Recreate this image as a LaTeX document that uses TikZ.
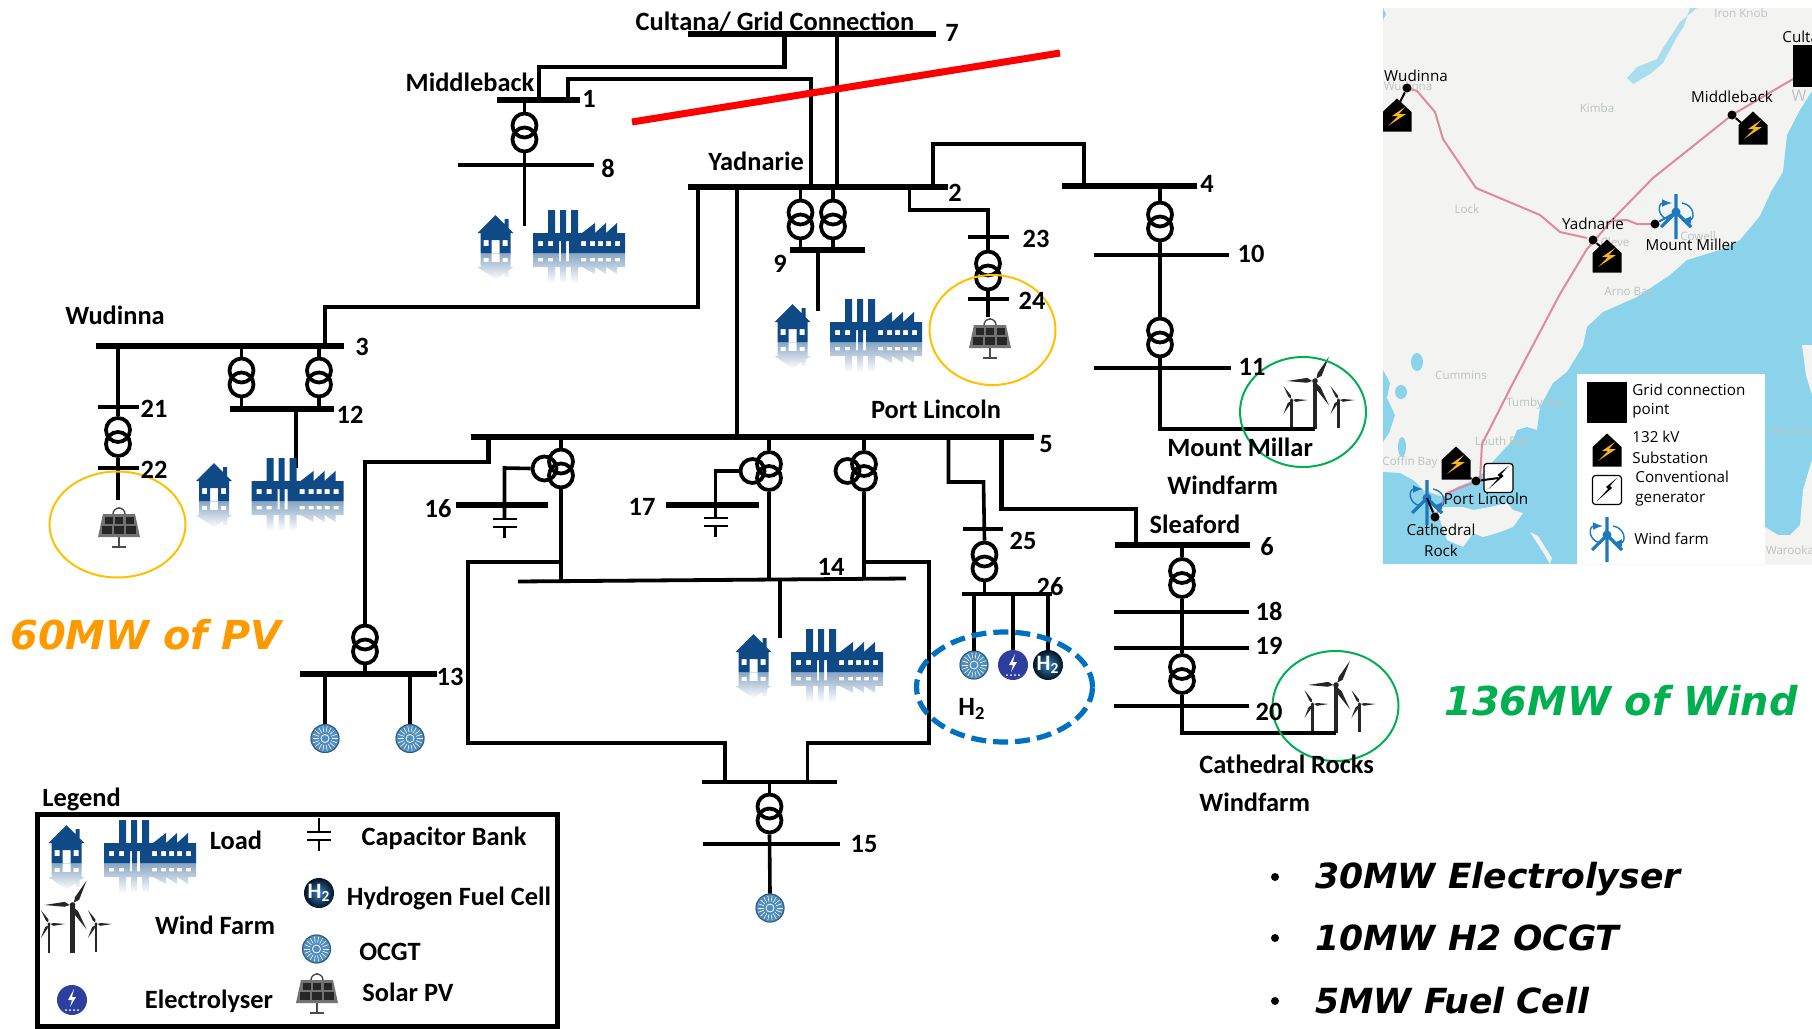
\documentclass[tikz,border=0pt]{standalone}
\usepackage{fontspec}
\setmainfont{Carlito}
\newfontfamily\mapfont{Open Sans}
\newfontfamily\slidefont{DejaVu Sans}
\usetikzlibrary{arrows,positioning,shapes.geometric,fadings}
\definecolor{loadblue}{HTML}{0F4A86}
\definecolor{sea}{HTML}{8BD3EB}
\definecolor{land}{HTML}{F3F4F2}
\definecolor{pinkline}{HTML}{DE8A9C}
\definecolor{maptext}{HTML}{BCC2C2}
\definecolor{windblue}{HTML}{1E78BE}
\definecolor{boltyellow}{HTML}{F7B51C}
\definecolor{ocgtblue}{HTML}{4F8FBF}
\definecolor{elecblue}{HTML}{2C3F9E}
\definecolor{solaryellow}{HTML}{FFC000}
\definecolor{pvorange}{HTML}{FF9900}
\definecolor{windgreen}{HTML}{00B050}
\definecolor{hydrogenblue}{HTML}{0070C0}

\newcommand{\HousePath}{(0,-38) -- (9,-29) -- (9,-34) -- (13,-34) -- (13,-25) -- (18,-20) -- (15,-20) -- (15,0) -- (-15,0) -- (-15,-20) -- (-18,-20) -- cycle (-4,-13) rectangle (4,0) (-12,-13) rectangle (-7,-7) (7,-13) rectangle (12,-7)}
\newcommand{\FactoryPath}{(0,-20) -- (15,-20) -- (15,-43) -- (22,-43) -- (22,-20) -- (27,-20) -- (27,-43) -- (33,-43) -- (33,-20) -- (38,-20) -- (38,-43) -- (45,-43) -- (45,-20) -- (49,-20) -- (62,-30) -- (62,-20) -- (73,-30) -- (73,-20) -- (84,-30) -- (84,-20) -- (92,-20) -- (92,0) -- (36,0) -- (36,-12) -- (33,-12) -- (33,0) -- (28,0) -- (28,-12) -- (26,-12) -- (26,0) -- (0,0) -- cycle (5,-12) rectangle (10,-7) (15,-12) rectangle (20,-7) (48,-12) rectangle (53,-7) (57,-12) rectangle (62,-7) (65,-12) rectangle (70,-7) (73,-12) rectangle (78,-7) (82,-12) rectangle (87,-7)}

\tikzset{
	pics/load/.style={code={
		\fill[loadblue,even odd rule] \HousePath;
		\fill[loadblue,even odd rule,shift={(37.5,0)}] \FactoryPath;
		\fill[loadblue,even odd rule,yscale=-0.7,opacity=0.5,path fading=south] \HousePath;
		\fill[loadblue,even odd rule,shift={(37.5,0)},yscale=-0.7,opacity=0.5,path fading=south] \FactoryPath;
	}},
	pics/turbine/.style n args={3}{code={
		\draw[black!85,line width={#1*0.08pt}] (0,0) -- (0,#3);
		\foreach \a in {#2,#2+120,#2+240}
			\fill[black!85] ({\a}:#1) -- ({\a+22}:{.3*#1}) -- ({\a}:{.1*#1}) -- ({\a-12}:{.3*#1}) -- cycle;
		\fill[black!85] (0,0) circle[radius={#1*0.1}];
	}},
	pics/windfarm/.style={code={
		\pic at (0,0) {turbine={28}{-60}{48}};
		\pic at (-23.5,19) {turbine={16}{0}{29}};
		\pic at (23.5,19) {turbine={16}{0}{28}};
		\coordinate (-foot) at (0,48);
	}},
	pics/ocgt/.style={code={
		\fill[ocgtblue] (0,0) circle[radius=14.5];
		\draw[black!10!ocgtblue!70!black,line width=.5pt] (0,0) circle[radius=14];
		\foreach \a in {0,20,...,340}
			\draw[white,line width=.3pt] (\a:6.5) -- (\a:12.5);
		\draw[white,line width=.4pt] (0,0) circle[radius=4];
		\coordinate (-top) at (0,-14.5);
	}},
	pics/electrolyser/.style={code={
		\fill[elecblue] (0,0) circle[radius=15];
		\fill[white] (2,-11) -- (-4,0) -- (0,0) -- (-2,7) -- (4,-3) -- (0,-3) -- cycle;
		\foreach \a in {-6,-2,2,6}
			\fill[white] (\a,10) circle[radius=1];
		\coordinate (-top) at (0,-15);
	}},
	pics/fuelcell/.style={code={
		\shade[inner color=windblue!90,outer color=black!75!loadblue] (0,0) circle[radius=15];
		\node[text=white,font=\bfseries\fontsize{11}{11}\selectfont,inner sep=0pt] (-h) at (0,0) {H\textsubscript{2}};
		\coordinate (-top) at (0,-15);
	}},
	pics/solarpv/.style={code={
		\draw[black!70,line width=.7pt] (-6,-12) arc[start angle=180,end angle=360,radius=6];
		\fill[black!70] (0,-18) circle[radius=1.2];
		\draw[black!70,line width=1.4pt] (0,10) -- (0,20) (-7,21) -- (7,21);
		\fill[black!55] (-16,-12) -- (16,-12) -- (21,11) -- (-21,11) -- cycle;
		\foreach \i in {-1,0,1} {
			\fill[black!85] ({\i*10.5-4},-9) rectangle ({\i*10.5+4},-2);
			\fill[black!85] ({\i*12-5},0) rectangle ({\i*12+5},8);
		}
	}},
	pics/capbank/.style={code={
		\draw[line width=1.3pt,black] (0,-14) -- (0,0) (-12,0) -- (12,0) (-12,8) -- (12,8) (0,8) -- (0,19);
	}},
	pics/substation/.style={code={
		\fill[black] (0,-16.5) -- (14.5,-3) -- (14.5,16.5) -- (-14.5,16.5) -- (-14.5,-3) -- cycle;
		\fill[boltyellow] (8,-8) -- (-5,1) -- (1,1) -- (-9,11) -- (9,-1) -- (2,-1) -- cycle;
		\coordinate (-c) at (0,0);
	}},
	pics/generator/.style={code={
		\draw[black,fill=white,rounded corners=1.5pt,line width=.6pt] (-14.5,-14.5) rectangle (14.5,14.5);
		\fill[black] (10,-12) -- (-1,-3) -- (1,-1) -- (-10,11) -- (5,-2) -- (3,-4) -- cycle;
		\coordinate (-c) at (0,0);
	}},
	pics/windicon/.style={code={
		\draw[windblue,line width=1.6pt] (0,-18) -- (0,27) (-15,15) -- (0,0) -- (15,15);
		\fill[windblue] (0,0) circle[radius=4.5];
		\draw[windblue,line width=.7pt,-latex] (-6,8) .. controls (-19,6) and (-19,-9) .. (-4,-9);
		\draw[windblue,line width=.7pt,-latex] (6,-9) .. controls (19,-7) and (19,8) .. (5,8);
		\coordinate (-c) at (0,0);
	}},
}

\newcommand{\Bus}[5][busbar]{\node[#1,minimum width={(#4-#3)*0.5pt}] (#2) at ({(#3+#4)/2},#5) {};}
\newcommand{\Trafo}[3]{%
	\coordinate (#1) at (#2,#3);
	\node[coil] (#1U) at (#2,#3-7) {};
	\node[coil] (#1D) at (#2,#3+7) {};}
\newcommand{\TrafoT}[3]{%
	\Trafo{#1}{#2}{#3}
	\node[coil] (#1L) at (#2-16.5,#3) {};}

\begin{document}
\begin{tikzpicture}[x=0.5pt,y=-0.5pt]
	\tikzstyle{busbar}=[fill=black,inner sep=0pt,outer sep=0pt,minimum height=2.7pt]
	\tikzstyle{thinbar}=[busbar,minimum height=1.9pt]
	\tikzstyle{coil}=[circle,draw=black,line width=1.9pt,inner sep=0pt,minimum size=12pt]
	\tikzstyle{feeder}=[line width=2.2pt,black,line join=miter]
	\tikzstyle{stem}=[line width=1.8pt,black]
	\tikzstyle{tag}=[font=\bfseries\fontsize{13.2}{15}\selectfont,inner sep=0pt,text depth=0pt]
	\tikzstyle{solarring}=[ellipse,draw=solaryellow,line width=1pt,inner sep=0pt]
	\tikzstyle{windring}=[ellipse,draw=windgreen,line width=1pt,inner sep=0pt]
	\tikzstyle{sizing}=[font=\slidefont\bfseries\itshape\fontsize{19.9}{23}\selectfont,inner sep=0pt]
	\tikzstyle{bullettext}=[font=\slidefont\bfseries\itshape\fontsize{17.3}{21}\selectfont,inner sep=0pt,anchor=west]
	\tikzstyle{pointdot}=[circle,fill=black,inner sep=0pt,minimum size=4pt]
	\tikzstyle{maplabel}=[font=\mapfont\fontsize{7.6}{10}\selectfont,inner sep=0pt]
	\tikzstyle{maptown}=[font=\mapfont\fontsize{5.8}{8}\selectfont,inner sep=0pt,text=maptext]
	\tikzstyle{mapdot}=[circle,fill=black,inner sep=0pt,minimum size=4.5pt]

	\useasboundingbox (0,0) rectangle (1812,1029);

	% map
	\begin{scope}
		\clip (1383,8) rectangle (1812,564);
		\fill[land] (1383,8) rectangle (1812,564);
		\fill[sea] (1812,91) -- (1800,110) -- (1787,135) -- (1783,172) -- (1772,190) -- (1760,216) -- (1740,240) -- (1723,249) -- (1687,260) -- (1670,275) -- (1637,297) -- (1603,312) -- (1587,327) -- (1583,346) -- (1567,372) -- (1553,383) -- (1540,407) -- (1537,430) -- (1527,427) -- (1517,430) -- (1513,440) -- (1497,457) -- (1483,473) -- (1470,482) -- (1457,487) -- (1443,497) -- (1423,490) -- (1413,480) -- (1400,473) -- (1383,472) -- (1383,564) -- (1812,564) -- cycle;
		\fill[land] (1423,490) -- (1437,507) -- (1463,507) -- (1473,510) -- (1490,507) -- (1507,503) -- (1513,510) -- (1523,513) -- (1513,527) -- (1497,533) -- (1483,537) -- (1473,533) -- (1463,547) -- (1447,540) -- (1440,520) -- cycle;
		\fill[land] (1530,532) -- (1538,536) -- (1552,558) -- (1550,564) -- (1543,552) -- cycle;
		\fill[land] (1802,345) -- (1812,345) -- (1812,395) -- (1806,375) -- cycle;
		\fill[land] (1765,527) -- (1778,535) -- (1790,535) -- (1800,525) -- (1803,490) -- (1812,460) -- (1812,564) -- (1765,564) -- cycle;
		\fill[sea!70!land] (1697,8) -- (1680,22) -- (1663,48) -- (1657,59) -- (1637,67) -- (1627,78) -- (1633,84) -- (1650,74) -- (1663,63) -- (1677,37) -- (1684,26) -- (1690,8) -- cycle;
		\fill[sea] (1383,370) -- (1390,383) -- (1387,398) -- (1395,415) -- (1389,433) -- (1383,442) -- cycle;
		\fill[sea] (1417,362) ellipse[x radius=6,y radius=9];
		\fill[sea] (1401,392) ellipse[x radius=6,y radius=7];
		\fill[sea] (1402,447) ellipse[x radius=4,y radius=10];
		\fill[sea] (1383,8) -- (1386,14) -- (1383,20) -- cycle;
		\node[maptown] (mapIron) at (1741,13) {Iron Knob};
		\node[maptown] (mapKimba) at (1597,108) {Kimba};
		\node[maptown] (mapLock) at (1467,209) {Lock};
		\node[maptown] (mapCummins) at (1461,375) {Cummins};
		\node[maptown] (mapTumby) at (1536,403) {Tumby Bay};
		\node[maptown] (mapLouth) at (1502,442) {Louth Bay};
		\node[maptown] (mapCoffin) at (1410,462) {Coffin Bay};
		\node[maptown] (mapArno) at (1629,293) {Arno Bay};
		\node[maptown] (mapCowell) at (1698,236) {Cowell};
		\node[maptown] (mapCleve) at (1615,242) {Cleve};
		\node[maptown] (mapPort) at (1793,431) {Port Vic};
		\node[maptown] (mapWarooka) at (1790,550) {Warooka};
		\node[maptown] (mapWudinna) at (1408,86) {Wudinna};
		\node[maptown,font=\mapfont\fontsize{8}{10}\selectfont] (mapWh) at (1799,96) {W};
		\draw[pinkline,line width=1pt] (1793,79) -- (1732,115) -- (1653,178) -- (1613,219) -- (1587,249) -- (1560,294) -- (1513,383) -- (1482,444) -- (1480,480) -- (1447,493) -- (1435,517);
		\draw[pinkline,line width=1pt] (1407,88) -- (1417,91) -- (1435,112) -- (1443,139) -- (1476,188) -- (1540,215) -- (1560,232) -- (1587,238);
		\draw[pinkline,line width=1pt] (1610,221) -- (1627,220) -- (1637,224) -- (1655,224);
		\fill[black] (1793,45) rectangle (1812,87);
		\node[maplabel,anchor=west] (mapCult) at (1782,37) {Cultana};

		\pic (subW) at (1397,115) {substation};
		\pic (subM) at (1753,128) {substation};
		\pic (subY) at (1607,256) {substation};
		\pic (subP) at (1456,463) {substation};
		\node[mapdot] (dotW) at (1407,88) {};
		\node[mapdot] (dotM) at (1732,115) {};
		\node[mapdot] (dotY) at (1593,240) {};
		\node[mapdot] (dotP) at (1476,481) {};
		\draw[line width=1pt] (dotW) -- (1397,108);
		\draw[line width=1pt] (dotM) -- (1745,126);
		\draw[line width=1pt] (dotY) -- (1602,248);
		\pic (genP) at (1498.5,478) {generator};
		\draw[line width=1pt] (dotP) -- (genP-c);
		\draw[line width=1pt] (dotP) -- (1470,478);
		\pic (windM) at (1676,212) {windicon};
		\pic (windC) at (1427,498) {windicon};
		\node[mapdot] (dotMM) at (1655,224) {};
		\node[mapdot] (dotC) at (1435,517) {};
		\draw[windblue,line width=1pt] (dotMM) -- (windM-c);
		\draw[line width=1pt] (dotC) -- (windC-c);
		\node[maplabel] (mapWud) at (1416,76) {Wudinna};
		\node[maplabel] (mapMid) at (1732,97) {Middleback};
		\node[maplabel] (mapYad) at (1593,224) {Yadnarie};
		\node[maplabel] (mapMou) at (1691,245) {Mount Miller};
		\node[maplabel] (mapLin) at (1486,499) {Port Lincoln};
		\node[maplabel] (mapCat) at (1441,530) {Cathedral};
		\node[maplabel] (mapRoc) at (1441,551) {Rock};

		\fill[white] (1577,374) rectangle (1765,564);
		\fill[black] (1587,382) rectangle (1627,423);
		\pic (keySub) at (1607,450) {substation};
		\pic (keyGen) at (1607,490) {generator};
		\pic (keyWind) at (1607,535) {windicon};
		\node[maplabel,anchor=west] (keyA) at (1632,390) {Grid connection};
		\node[maplabel,anchor=west] (keyB) at (1632,411) {point};
		\node[maplabel,anchor=west] (keyC) at (1632,437) {132 kV};
		\node[maplabel,anchor=west] (keyD) at (1632,458) {Substation};
		\node[maplabel,anchor=west] (keyE) at (1635,477) {Conventional};
		\node[maplabel,anchor=west] (keyF) at (1635,499) {generator};
		\node[maplabel,anchor=west] (keyG) at (1634,539) {Wind farm};
	\end{scope}

	% buses
	\Bus{b1}{497}{580}{100}
	\Bus{b7}{688}{936}{34}
	\Bus{b2}{688}{948}{187}
	\Bus{b3}{96}{344}{346}
	\Bus{b4}{1062}{1197}{186}
	\Bus{b5}{471}{1034}{437}
	\Bus{b6}{1115}{1250}{545}
	\Bus[thinbar]{b8}{458}{594}{165}
	\Bus{b9}{790}{865}{250}
	\Bus[thinbar]{b10}{1094}{1229}{255}
	\Bus[thinbar]{b11}{1094}{1231}{368}
	\Bus{b12}{230}{334}{409}
	\Bus{b13}{300}{437}{674}
	\Bus[thinbar,rotate=0.44]{b14}{518}{906}{580}
	\Bus[thinbar]{b15a}{702}{837}{782}
	\Bus[thinbar]{b15}{703}{840}{844}
	\Bus{b16}{456}{548}{505}
	\Bus{b17}{666}{759}{505}
	\Bus[thinbar]{b18}{1114}{1249}{612}
	\Bus[thinbar]{b19}{1114}{1249}{648}
	\Bus[thinbar]{b20}{1114}{1249}{706}
	\Bus[thinbar]{b21}{98}{139}{407}
	\Bus[thinbar]{b22}{98}{139}{468}
	\Bus[thinbar]{b23}{968}{1009}{237}
	\Bus[thinbar]{b24}{968}{1009}{299}
	\Bus[thinbar]{b25}{963}{1003}{529}
	\Bus[thinbar]{b26}{962}{1052}{594}

	% transformers
	\Trafo{t1}{524.5}{132.5}
	\Trafo{t3a}{241.5}{377.5}
	\Trafo{t3b}{319}{377.5}
	\Trafo{t21}{118}{437}
	\Trafo{t9a}{800.5}{219.5}
	\Trafo{t9b}{833}{219.5}
	\Trafo{t23}{988}{270.5}
	\Trafo{t4}{1160}{221.5}
	\Trafo{t10}{1160}{337.5}
	\Trafo{t6}{1182}{578}
	\Trafo{t19}{1182}{674}
	\Trafo{t13}{365}{644.5}
	\Trafo{t15}{769.5}{813.5}
	\Trafo{t25}{984.5}{561.5}
	\TrafoT{tA}{561}{468.5}
	\TrafoT{tB}{769}{471}
	\TrafoT{tC}{864}{471}

	% lines
	\coordinate (k1a) at (539,67);
	\coordinate (k1b) at (784.5,67);
	\draw[feeder] (k1a |- b1) -- (k1a) -- (k1b) -- (k1b |- b7);
	\coordinate (k2a) at (568,79);
	\coordinate (k2b) at (811,79);
	\draw[feeder] (k2a |- b1) -- (k2a) -- (k2b) -- (k2b |- b2);
	\coordinate (k7) at (837,110);
	\draw[feeder] (k7 |- b7) -- (k7 |- b2);
	\coordinate (k3a) at (325,307);
	\coordinate (k3b) at (698,307);
	\draw[feeder] (k3a |- b3) -- (k3a) -- (k3b) -- (k3b |- b2);
	\coordinate (k5) at (737,300);
	\draw[feeder] (k5 |- b2) -- (k5 |- b5);
	\coordinate (k4a) at (933,144);
	\coordinate (k4b) at (1084,144);
	\draw[feeder] (k4a |- b2) -- (k4a) -- (k4b) -- (k4b |- b4);
	\coordinate (k23a) at (909.5,210);
	\coordinate (k23b) at (988,210);
	\draw[stem] (k23a |- b2) -- (k23a) -- (k23b) -- (t23U.north);

	\draw[stem] (t1U.north) -- (t1U |- b1);
	\coordinate (endb8) at (524.5,226);
	\draw[stem] (t1D.south) -- (endb8);
	\draw[stem] (t3aU.north) -- (t3aU |- b3);
	\draw[stem] (t3aD.south) -- (t3aD |- b12);
	\draw[stem] (t3bU.north) -- (t3bU |- b3);
	\draw[stem] (t3bD.south) -- (t3bD |- b12);
	\coordinate (endb12) at (296,468);
	\draw[feeder] (endb12 |- b12) -- (endb12);
	\draw[stem] (t21U.north) -- (t21U |- b3);
	\coordinate (endb22) at (118,500);
	\draw[stem] (t21D.south) -- (endb22);
	\draw[stem] (t9aU.north) -- (t9aU |- b2);
	\draw[stem] (t9aD.south) -- (t9aD |- b9);
	\draw[stem] (t9bU.north) -- (t9bU |- b2);
	\draw[stem] (t9bD.south) -- (t9bD |- b9);
	\coordinate (endb9) at (818,311);
	\draw[stem] (endb9 |- b9) -- (endb9);
	\coordinate (endb24) at (988,317);
	\draw[stem] (t23D.south) -- (endb24);
	\draw[stem] (t4U.north) -- (t4U |- b4);
	\draw[stem] (t4D.south) -- (t10U.north);
	\pic (wf11) at (1315,381) {windfarm};
	\draw[stem] (t10D.south) -- (t10D |- wf11-foot) -- (wf11-foot);
	\draw[stem] (t6U.north) -- (t6U |- b6);
	\draw[stem] (t6D.south) -- (t19U.north);
	\pic (wf20) at (1336,685) {windfarm};
	\draw[stem] (t19D.south) -- (t19D |- wf20-foot) -- (wf20-foot);

	\coordinate (k13a) at (488.5,462);
	\coordinate (k13b) at (365,462);
	\draw[feeder] (k13a |- b5) -- (k13a) -- (k13b) -- (t13U.north);
	\draw[stem] (t13D.south) -- (t13D |- b13);
	\pic (g13a) at (325,738.5) {ocgt};
	\pic (g13b) at (410,738.5) {ocgt};
	\draw[stem] (g13a-top |- b13) -- (g13a-top);
	\draw[stem] (g13b-top |- b13) -- (g13b-top);

	\draw[stem] (tAU.north) -- (tAU |- b5);
	\draw[stem] (tBU.north) -- (tBU |- b5);
	\draw[stem] (tCU.north) -- (tCU |- b5);
	\draw[stem] (tAD.south) -- (tAD |- b14);
	\draw[stem] (tBD.south) -- (tBD |- b14);
	\draw[stem] (tCD.south) -- (tCD |- b14);
	\pic (cap16) at (504.5,519) {capbank};
	\pic (cap17) at (715.5,518) {capbank};
	\coordinate (k16) at (504.5,468);
	\coordinate (k17) at (715.5,471);
	\coordinate (k16b) at (504.5,519);
	\coordinate (k17b) at (715.5,518);
	\draw[stem] (tAL.west) -- (k16) -- (k16b);
	\draw[stem] (tBL.west) -- (k17) -- (k17b);

	\coordinate (k14a) at (468,562);
	\coordinate (k14b) at (468,743);
	\coordinate (k14c) at (725,743);
	\draw[stem] (tAD |- k14a) -- (k14a) -- (k14b) -- (k14c) -- (k14c |- b15a);
	\coordinate (k14d) at (929,562);
	\coordinate (k14e) at (929,743);
	\coordinate (k14f) at (807.5,743);
	\draw[stem] (tCD |- k14d) -- (k14d) -- (k14e) -- (k14f) -- (k14f |- b15a);
	\draw[stem] (t15U.north) -- (t15U |- b15a);
	\pic (g15) at (770,908) {ocgt};
	\draw[stem] (t15D.south) -- (g15-top);
	\coordinate (endb14) at (780,638);
	\draw[stem] (endb14 |- b14) -- (endb14);

	\coordinate (k25a) at (948.5,482);
	\coordinate (k25b) at (983.5,482);
	\draw[stem] (k25a |- b5) -- (k25a) -- (k25b) -- (t25U.north);
	\draw[stem] (t25D.south) -- (t25D |- b26);
	\coordinate (k6a) at (1001.5,509);
	\coordinate (k6b) at (1136,509);
	\draw[feeder] (k6a |- b5) -- (k6a) -- (k6b) -- (k6b |- b6);
	\pic (g26a) at (974,665) {ocgt};
	\pic (g26b) at (1013,665) {electrolyser};
	\pic (g26c) at (1048,665) {fuelcell};
	\draw[stem] (g26a-top |- b26) -- (g26a-top);
	\draw[stem] (g26b-top |- b26) -- (g26b-top);
	\draw[stem] (g26c-top |- b26) -- (g26c-top);

	% loads and solar
	\pic at (495.5,253) {load};
	\pic at (214,501) {load};
	\pic at (792.5,342) {load};
	\pic at (753.5,672) {load};
	\pic at (119,526) {solarpv};
	\pic at (990,337) {solarpv};

	% rings
	\node[solarring,minimum width=68pt,minimum height=53pt] (ring22) at (117.5,524.5) {};
	\node[solarring,minimum width=63pt,minimum height=55pt] (ring24) at (992.5,330) {};
	\node[windring,minimum width=63pt,minimum height=55pt] (ring11) at (1303,412) {};
	\node[windring,minimum width=63pt,minimum height=55pt] (ring20) at (1335.5,706) {};
	\node[ellipse,draw=hydrogenblue,line width=2.6pt,dash pattern=on 7.5pt off 3.5pt,inner sep=0pt,minimum width=88pt,minimum height=55pt] (ringH) at (1004.5,687) {};
	\coordinate (cutL) at (632,122);
	\coordinate (cutR) at (1060,53);
	\draw[red,line width=3.5pt] (cutL) -- (cutR);

	% labels
	\node[tag] (n1) at (589,99) {1};
	\node[tag] (n2) at (955,193) {2};
	\node[tag] (n3) at (362,347) {3};
	\node[tag] (n4) at (1207,184) {4};
	\node[tag] (n5) at (1046,444) {5};
	\node[tag] (n6) at (1267,546) {6};
	\node[tag] (n7) at (952,33) {7};
	\node[tag] (n8) at (608,168) {8};
	\node[tag] (n9) at (780,264) {9};
	\node[tag] (n10) at (1251,254) {10};
	\node[tag] (n11) at (1252,367) {11};
	\node[tag] (n12) at (350,415) {12};
	\node[tag] (n13) at (450,677) {13};
	\node[tag] (n14) at (831,567) {14};
	\node[tag] (n15) at (864,844) {15};
	\node[tag] (n16) at (438,508) {16};
	\node[tag] (n17) at (642,507) {17};
	\node[tag] (n18) at (1269,611) {18};
	\node[tag] (n19) at (1269,646) {19};
	\node[tag] (n20) at (1269,712) {20};
	\node[tag] (n21) at (154,409) {21};
	\node[tag] (n22) at (154,470) {22};
	\node[tag] (n23) at (1036,239) {23};
	\node[tag] (n24) at (1032,301) {24};
	\node[tag] (n25) at (1023,541) {25};
	\node[tag] (n26) at (1050,586) {26};
	\node[tag] (nameC) at (775,21) {Cultana/ Grid Connection};
	\node[tag] (nameM) at (470,82) {Middleback};
	\node[tag] (nameY) at (756,161) {Yadnarie};
	\node[tag] (nameW) at (115,315) {Wudinna};
	\node[tag] (nameP) at (936,409) {Port Lincoln};
	\node[tag,anchor=west] (nameMM) at (1167,447) {Mount Millar};
	\node[tag,anchor=west] (nameMW) at (1167,485) {Windfarm};
	\node[tag] (nameS) at (1195,524) {Sleaford};
	\node[tag,anchor=west] (nameCR) at (1199,764) {Cathedral Rocks};
	\node[tag,anchor=west] (nameCW) at (1199,802) {Windfarm};
	\node[tag] (nameH) at (972,707) {H\textsubscript{2}};

	% headline figures
	\node[sizing,text=pvorange] (pvsize) at (146,635) {60MW of PV};
	\node[sizing,text=windgreen] (windsize) at (1621,701) {136MW of Wind};
	\node[pointdot] (p1) at (1275,877) {};
	\node[pointdot] (p2) at (1275,938) {};
	\node[pointdot] (p3) at (1275,1001) {};
	\node[bullettext] (s1) at (1315,879) {30MW Electrolyser};
	\node[bullettext] (s2) at (1315,938) {10MW H2 OCGT};
	\node[bullettext] (s3) at (1315,1001) {5MW Fuel Cell};

	% legend
	\node[tag,anchor=west] (legendtitle) at (42,797) {Legend};
	\node[draw=black,line width=2.5pt,inner sep=0pt,minimum width=260pt,minimum height=106pt] (legendbox) at (297.5,920.5) {};
	\pic at (66.5,863) {load};
	\pic (keyW) at (72.5,905) {windfarm};
	\pic at (72,1000) {electrolyser};
	\pic at (319,832) {capbank};
	\pic at (319,893) {fuelcell};
	\pic at (316.5,949) {ocgt};
	\pic at (317,992) {solarpv};
	\node[tag] (legL) at (236,840) {Load};
	\node[tag] (legW) at (215,925) {Wind Farm};
	\node[tag] (legE) at (209,999) {Electrolyser};
	\node[tag] (legC) at (444,836) {Capacitor Bank};
	\node[tag] (legH) at (449,896) {Hydrogen Fuel Cell};
	\node[tag] (legO) at (390,952) {OCGT};
	\node[tag] (legS) at (408,992) {Solar PV};
\end{tikzpicture}
\end{document}
